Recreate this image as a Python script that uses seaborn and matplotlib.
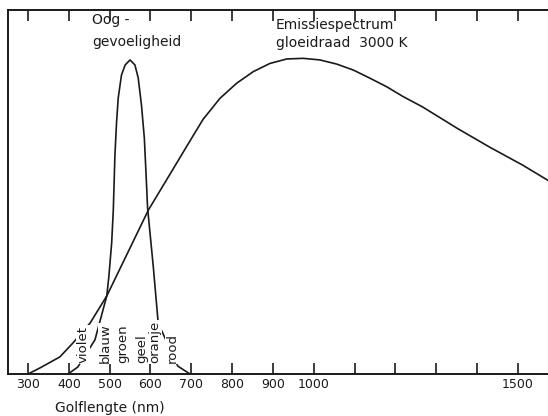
import matplotlib
matplotlib.use("Agg")
import matplotlib.pyplot as plt
import seaborn as sns
import pandas as pd

# Emission spectrum of a 3000 K filament (relative)
emis_nm = [300, 329, 378, 410, 452, 493, 595, 664, 697, 729, 770, 811, 852, 893,
           934, 974, 1015, 1056, 1097, 1138, 1179, 1219, 1267, 1351, 1431, 1512, 1575]
emis_val = [0.0, 0.019, 0.054, 0.098, 0.161, 0.247, 0.519, 0.667, 0.738, 0.806, 0.872,
            0.920, 0.957, 0.983, 0.997, 0.999, 0.994, 0.981, 0.962, 0.936, 0.909,
            0.878, 0.845, 0.778, 0.718, 0.661, 0.612]

# Eye sensitivity (relative)
eye_nm = [398, 422, 464, 493, 498, 505, 509, 513, 517, 521, 529, 538, 550, 562,
          570, 578, 585, 589, 593, 607, 619, 667, 697]
eye_val = [0.0, 0.022, 0.108, 0.247, 0.307, 0.415, 0.519, 0.693, 0.797, 0.873, 0.946,
           0.978, 0.994, 0.978, 0.937, 0.851, 0.747, 0.639, 0.525, 0.339, 0.161,
           0.025, 0.0]

tick_values = list(range(300, 1501, 100))
tick_labels = ["300", "400", "500", "600", "700", "800", "900", "1000",
               "", "", "", "", "1500"]

colour_names = ["violet", "blauw", "groen", "geel", "oranje", "rood"]
colour_pos = [435, 489, 533, 579, 611, 653]

df = pd.concat([
    pd.DataFrame({"nm": emis_nm, "val": emis_val, "curve": "emissie"}),
    pd.DataFrame({"nm": eye_nm, "val": eye_val, "curve": "oog"}),
])

sns.set_theme(style="white")
plt.rcParams["font.family"] = ["DejaVu Sans"]

W, H = 548, 416
fig = plt.figure(figsize=(W / 100, H / 100), dpi=100)
ax = fig.add_axes([8 / W, (H - 374) / H, (W - 8) / W, (374 - 10) / H])

ink = "#1a1a1a"
for name, sub in df.groupby("curve"):
    sns.lineplot(data=sub, x="nm", y="val", ax=ax, color=ink, linewidth=1.2,
                 estimator=None, sort=True, legend=False)

ax.set_xlim(251, 1574)
ax.set_ylim(0, 1.152)
ax.set_xlabel("")
ax.set_ylabel("")
ax.set_yticks([])
ax.set_xticks(tick_values)
ax.set_xticklabels(tick_labels, fontsize=9, color=ink)
ax.tick_params(axis="x", which="both", direction="in", length=8, width=1.2,
               color=ink, top=True, bottom=True, pad=3)
for s in ["left", "top", "bottom"]:
    ax.spines[s].set_color(ink)
    ax.spines[s].set_linewidth(1.4)
ax.spines["right"].set_visible(False)

for name, pos in zip(colour_names, colour_pos):
    ax.text(pos, 0.035, name, rotation=90, ha="center", va="bottom",
            fontsize=9.5, color=ink, zorder=5,
            bbox=dict(boxstyle="square,pad=0.05", facecolor="white", edgecolor="none"))

ax.text(457, 1.12, "Oog -", ha="left", va="center", fontsize=10, color=ink)
ax.text(457, 1.05, "gevoeligheid", ha="left", va="center", fontsize=10, color=ink)
ax.text(907, 1.104, "Emissiespectrum", ha="left", va="center", fontsize=10, color=ink)
ax.text(907, 1.047, "gloeidraad  3000 K", ha="left", va="center", fontsize=10, color=ink)

fig.text(55 / W, 1 - 408 / H, "Golflengte (nm)", ha="left", va="center",
         fontsize=10, color=ink)

fig.savefig("out.png", dpi=100, facecolor="white")
